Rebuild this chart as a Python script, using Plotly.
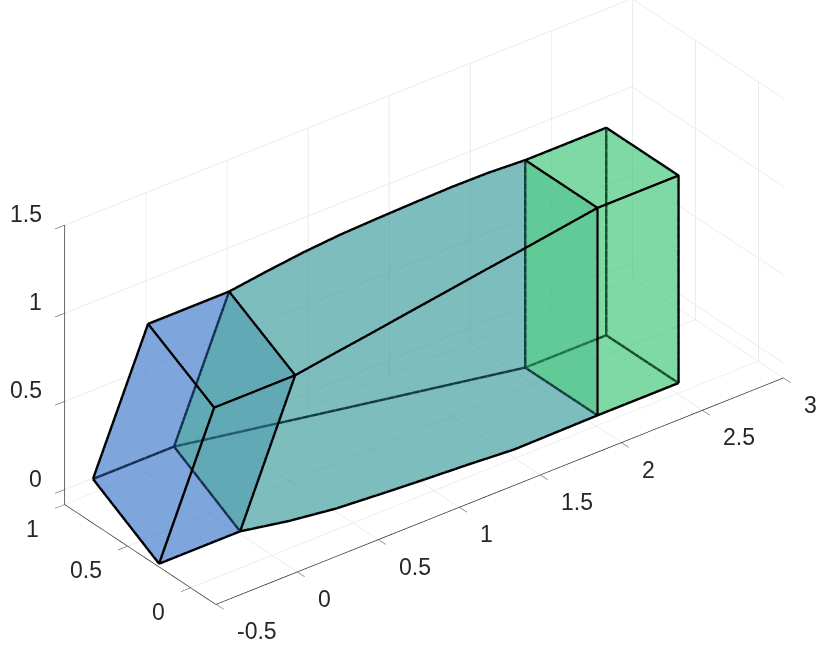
import plotly.graph_objects as go

# cross-section stations along x
box_a_x = [-0.5, 0.0]
loft_x = [0.0, 0.25, 0.5, 0.75, 1.0, 1.25, 1.5, 1.75, 2.0]
box_b_x = [2.0, 2.5]

# four section corners (y, z) at each loft station
c1_y = [0.778, 0.751, 0.724, 0.697, 0.670, 0.643, 0.617, 0.590, 0.563]
c1_z = [0.164, 0.141, 0.118, 0.095, 0.072, 0.049, 0.026, 0.003, -0.020]
c2_y = [0.254, 0.190, 0.140, 0.110, 0.080, 0.050, 0.010, 0.000, -0.010]
c2_z = [-0.069, -0.072, -0.070, -0.066, -0.060, -0.052, -0.040, -0.030, -0.020]
c3_y = [-0.183, -0.161, -0.140, -0.118, -0.097, -0.075, -0.054, -0.032, -0.010]
c3_z = [1.023, 1.040, 1.056, 1.073, 1.090, 1.107, 1.123, 1.140, 1.157]
c4_y = [0.341, 0.3688, 0.3965, 0.4243, 0.452, 0.4798, 0.5075, 0.535, 0.563]
c4_z = [1.250, 1.258, 1.262, 1.258, 1.245, 1.230, 1.213, 1.190, 1.157]

x_ticks = [-0.5, 0, 0.5, 1, 1.5, 2, 2.5, 3]
y_ticks = [0, 0.5, 1]
z_ticks = [0, 0.5, 1, 1.5]
x_labels = ["-0.5", "0", "0.5", "1", "1.5", "2", "2.5", "3"]
y_labels = ["0", "0.5", "1"]
z_labels = ["0", "0.5", "1", "1.5"]

BLUE = "rgb(55,116,200)"
TEAL = "rgb(52,152,152)"
GREEN = "rgb(55,195,114)"
OPACITY = 0.4

X_RANGE = [-0.503, 3]
Y_RANGE = [-0.2, 1]
Z_RANGE = [-0.085, 1.5]

ys = [c1_y, c2_y, c3_y, c4_y]
zs = [c1_z, c2_z, c3_z, c4_z]


def section(idx):
    return [c[idx] for c in ys], [c[idx] for c in zs]


def solid(xs, secs, color, caps):
    X, Y, Z, I, J, K = [], [], [], [], [], []
    for x, (sy, sz) in zip(xs, secs):
        X += [x] * 4
        Y += sy
        Z += sz
    for s in range(len(xs) - 1):
        for c in range(4):
            a = s * 4 + c
            b = s * 4 + (c + 1) % 4
            d = a + 4
            e = b + 4
            I += [a, a]
            J += [b, e]
            K += [e, d]
    for s in caps:
        b = s * 4
        I += [b, b]
        J += [b + 1, b + 2]
        K += [b + 2, b + 3]
    return go.Mesh3d(x=X, y=Y, z=Z, i=I, j=J, k=K, color=color, opacity=OPACITY,
                     flatshading=True, hoverinfo="skip", showscale=False,
                     lighting=dict(ambient=1, diffuse=0, specular=0, fresnel=0, roughness=1))


def wire(xs, secs, rings):
    X, Y, Z = [], [], []
    if rings:
        for x, (sy, sz) in zip(xs, secs):
            X += [x] * 5 + [None]
            Y += sy + sy[:1] + [None]
            Z += sz + sz[:1] + [None]
    for c in range(4):
        for x, (sy, sz) in zip(xs, secs):
            X.append(x); Y.append(sy[c]); Z.append(sz[c])
        X.append(None); Y.append(None); Z.append(None)
    return go.Scatter3d(x=X, y=Y, z=Z, mode="lines", line=dict(color="black", width=5),
                        hoverinfo="skip", showlegend=False)


sec_loft = [section(i) for i in range(len(loft_x))]
sec_a = [sec_loft[0], sec_loft[0]]
sec_b = [sec_loft[-1], sec_loft[-1]]

fig = go.Figure([
    solid(box_a_x, sec_a, BLUE, [0]),
    solid(loft_x, sec_loft, TEAL, [0]),
    solid(box_b_x, sec_b, GREEN, [0, 1]),
    wire(box_a_x, sec_a, True),
    wire(loft_x, sec_loft, False),
    wire(box_b_x, sec_b, True),
])

font = dict(family="Liberation Sans, Arial, sans-serif", size=23, color="#262626")


def axis(rng, vals, text):
    return dict(range=rng, tickmode="array", tickvals=vals, ticktext=text, title=dict(text=""),
                showticklabels=False, showgrid=True, gridcolor="#d9d9d9", gridwidth=1,
                showline=True, linecolor="#262626", linewidth=1.5,
                ticks="outside", ticklen=12, tickcolor="#262626", tickwidth=1,
                showbackground=False, zeroline=False, showspikes=False, autorange=False)


annotations = []
for v, t in zip(x_ticks, x_labels):
    annotations.append(dict(x=v, y=Y_RANGE[0], z=Z_RANGE[0], text=t, showarrow=False, font=font,
                            xanchor="left", yanchor="middle", xshift=19, yshift=-27))
for v, t in zip(y_ticks, y_labels):
    annotations.append(dict(x=X_RANGE[0], y=v, z=Z_RANGE[0], text=t, showarrow=False, font=font,
                            xanchor="right", yanchor="middle", xshift=-24, yshift=-24))
for v, t in zip(z_ticks, z_labels):
    annotations.append(dict(x=X_RANGE[0], y=Y_RANGE[1], z=v, text=t, showarrow=False, font=font,
                            xanchor="right", yanchor="middle", xshift=-21, yshift=11))

d = 6
k = 0.633
cx, cy, cz = -0.0442, -0.0116, -0.0607
fig.update_layout(
    width=830, height=649, margin=dict(l=0, r=0, t=0, b=0), paper_bgcolor="white",
    showlegend=False,
    scene=dict(
        domain=dict(x=[0, 1], y=[0, 1]),
        xaxis=axis(X_RANGE, x_ticks, x_labels),
        yaxis=axis(Y_RANGE, y_ticks, y_labels),
        zaxis=axis(Z_RANGE, z_ticks, z_labels),
        aspectmode="manual", aspectratio=dict(x=3.5 * k, y=1.2 * k, z=1.585 * k),
        annotations=annotations,
        camera=dict(projection=dict(type="orthographic"),
                    up=dict(x=0, y=0, z=1),
                    center=dict(x=cx, y=cy, z=cz),
                    eye=dict(x=cx - 0.5265 * d, y=cy - 0.6775 * d, z=cz + 0.5135 * d)),
    ),
)
fig.write_html("out.html", config=dict(displayModeBar=False),
               post_script="document.body.style.margin='0';")
